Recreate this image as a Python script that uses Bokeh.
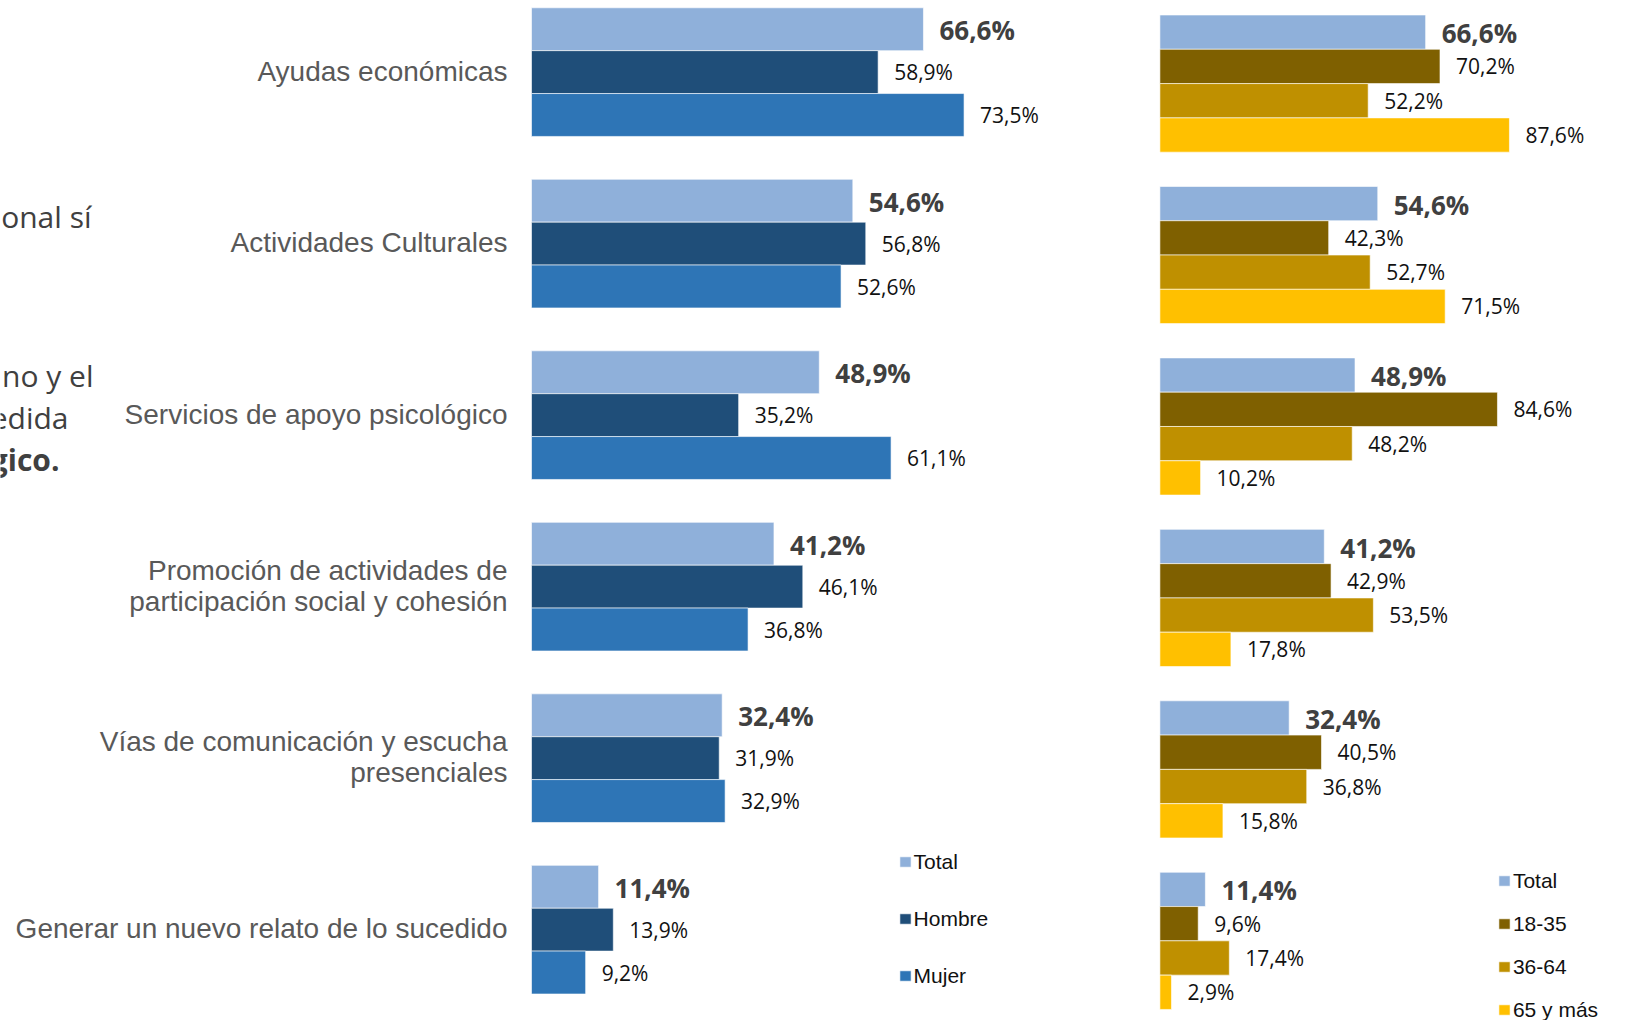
from bokeh.plotting import figure
from bokeh.models import ColumnDataSource, FactorRange, Range1d, Legend, LegendItem, Label
from bokeh.layouts import row
from bokeh.transform import dodge
from bokeh.embed import file_html
from bokeh.resources import INLINE
from bokeh.core.properties import value

# ---------------- data ----------------
categories = [
    "Ayudas económicas",
    "Actividades Culturales",
    "Servicios de apoyo psicológico",
    "Promoción de actividades de participación social y cohesión",
    "Vías de comunicación y escucha presenciales",
    "Generar un nuevo relato de lo sucedido",
]
category_labels = [
    "Ayudas económicas",
    "Actividades Culturales",
    "Servicios de apoyo psicológico",
    "Promoción de actividades de\nparticipación social y cohesión",
    "Vías de comunicación y escucha\npresenciales",
    "Generar un nuevo relato de lo sucedido",
]

sex_series = ["Total", "Hombre", "Mujer"]
total = [66.6, 54.6, 48.9, 41.2, 32.4, 11.4]
hombre = [58.9, 56.8, 35.2, 46.1, 31.9, 13.9]
mujer = [73.5, 52.6, 61.1, 36.8, 32.9, 9.2]

age_series = ["Total", "18-35", "36-64", "65 y más"]
age_18_35 = [70.2, 42.3, 84.6, 42.9, 40.5, 9.6]
age_36_64 = [52.2, 52.7, 48.2, 53.5, 36.8, 17.4]
age_65_mas = [87.6, 71.5, 10.2, 17.8, 15.8, 2.9]

context_lines = ["onal sí", "no y el", "edida", "gico."]
context_bold = [False, False, False, True]

# ---------------- styles ----------------
sex_colors = ["#8FB0DA", "#1F4E79", "#2E75B6"]
age_colors = ["#8FB0DA", "#7F6000", "#BF9000", "#FFC000"]
H = 1020
WL, WR = 1108, 518


def fmt(v):
    return f"{v:.1f}".replace(".", ",") + "%"


def base_fig(width, x_range, y_range):
    p = figure(width=width, height=H, x_range=x_range, y_range=y_range, title=None,
               output_backend="svg", toolbar_location=None,
               x_axis_location=None, y_axis_location=None,
               min_border_left=0, min_border_right=0,
               min_border_top=0, min_border_bottom=0)
    p.grid.visible = False
    p.outline_line_color = None
    p.background_fill_color = "white"
    p.border_fill_color = "white"
    return p


def add_bars(p, series, data, colors, shift):
    renderers = []
    for s, vals, col in zip(series, data, colors):
        src = ColumnDataSource(dict(y=[(c, s) for c in categories], v=vals,
                                    lab=[fmt(v) for v in vals]))
        ys = dodge("y", shift, range=p.y_range)
        r = p.hbar(y=ys, left=0, right="v", height=1.0, source=src,
                   fill_color=col, line_color="white", line_width=1, line_alpha=0.6)
        is_total = s == "Total"
        p.text(x="v", y=ys, text="lab", source=src, x_offset=16,
               y_offset=1 if is_total else 0,
               text_align="left", text_baseline="middle",
               text_font=value("Open Sans"),
               text_font_size="26px" if is_total else "21px",
               text_font_style="bold" if is_total else "normal",
               text_color="#404040" if is_total else "#111111")
        renderers.append(r)
    return renderers


def make_legend(series, renderers, loc, spacing):
    return Legend(items=[LegendItem(label=s, renderers=[r]) for s, r in zip(series, renderers)],
                  location=loc, orientation="vertical",
                  glyph_width=14, glyph_height=13, label_standoff=2,
                  label_text_font="Liberation Sans", label_text_font_size="21px",
                  label_text_color="#111111", spacing=spacing, padding=0, margin=0,
                  border_line_color=None, background_fill_alpha=0)


# ---------------- left chart (sex) ----------------
L_SCALE, L_ZERO, L_PAD, L_SHIFT = 5.885, 531, 0.394, 0.224
xl0 = -L_ZERO / L_SCALE
left_factors = [(c, s) for c in reversed(categories) for s in reversed(sex_series)]
pl = base_fig(WL, Range1d(xl0, xl0 + WL / L_SCALE),
              FactorRange(*left_factors, group_padding=1.0, factor_padding=0,
                          range_padding=L_PAD, range_padding_units="absolute"))
left_r = add_bars(pl, sex_series, [total, hombre, mujer], sex_colors, L_SHIFT)

cat_src = ColumnDataSource(dict(y=[(c, "Hombre") for c in categories], t=category_labels))
pl.text(x=0, y=dodge("y", L_SHIFT, range=pl.y_range), text="t", source=cat_src,
        x_offset=-24, y_offset=-1, text_align="right", text_baseline="middle",
        text_font=value("Liberation Sans"), text_font_size="28px",
        text_color="#595959", text_line_height=1.0)

# cut-off paragraph lines on the far left (screen px from frame bottom-left)
ctx_x = [91, 93, 68, 59]
ctx_y = [215.5, 374.5, 416.5, 458.5]
for t, b, cx, cy in zip(context_lines, context_bold, ctx_x, ctx_y):
    pl.add_layout(Label(x=cx, y=H - cy, x_units="screen", y_units="screen",
                        text=t, text_align="right", text_baseline="middle",
                        text_font="Open Sans", text_font_size="30px",
                        text_font_style="bold" if b else "normal", text_color="#404040"))

pl.add_layout(make_legend(sex_series, left_r, (897.6, 32.5), 33))

# ---------------- right chart (age) ----------------
R_SCALE, R_ZERO, R_PAD, R_SHIFT = 3.99, 51.4, 0.373, -0.05
xr0 = -R_ZERO / R_SCALE
right_factors = [(c, s) for c in reversed(categories) for s in reversed(age_series)]
pr = base_fig(WR, Range1d(xr0, xr0 + WR / R_SCALE),
              FactorRange(*right_factors, group_padding=1.0, factor_padding=0,
                          range_padding=R_PAD, range_padding_units="absolute"))
right_r = add_bars(pr, age_series, [total, age_18_35, age_36_64, age_65_mas], age_colors, R_SHIFT)
pr.add_layout(make_legend(age_series, right_r, (388.9, -1.7), 19))

layout = row(pl, pr)
open("out.html", "w").write(file_html(layout, INLINE))
